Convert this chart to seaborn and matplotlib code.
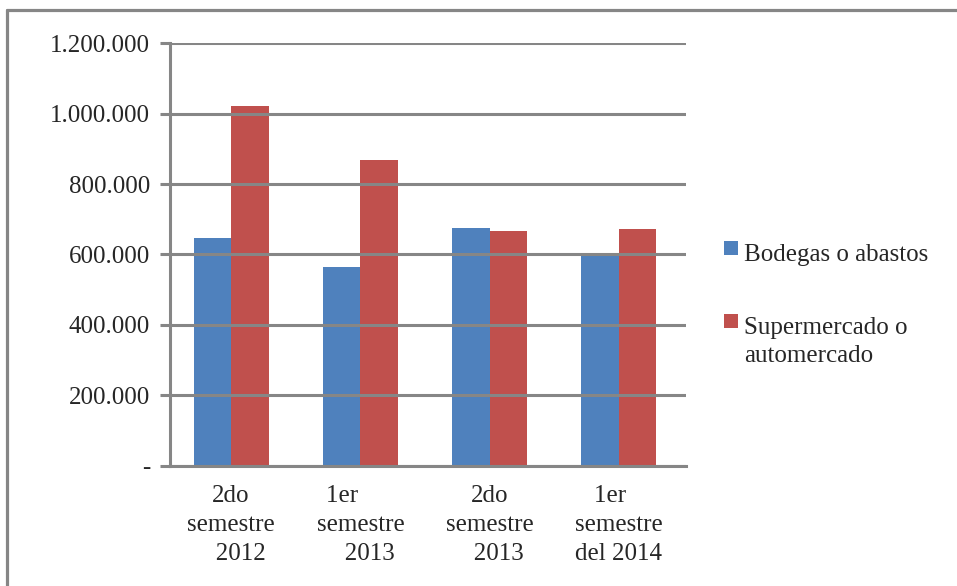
import matplotlib
matplotlib.use("Agg")
import matplotlib.pyplot as plt
import matplotlib.ticker as mticker
from matplotlib.patches import Rectangle
import seaborn as sns
import pandas as pd

# Semesters on the category axis (line breaks as printed under each group)
periodos = [
    "2do\nsemestre\n\u00a0\u00a0\u00a02012",
    "1er\u00a0\u00a0\u00a0\u00a0\u00a0\u00a0\nsemestre\n\u00a0\u00a0\u00a02013",
    "2do\nsemestre\n\u00a0\u00a0\u00a02013",
    "1er\u00a0\u00a0\u00a0\nsemestre\ndel 2014",
]
series = ["Bodegas o abastos", "Supermercado o\nautomercado"]
bodegas = [647000, 564000, 674000, 596000]
supermercado = [1020000, 868000, 667000, 671000]
colores = ["#4F81BD", "#C0504D"]
yticks = [0, 200000, 400000, 600000, 800000, 1000000, 1200000]

df = pd.DataFrame({
    "periodo": periodos * 2,
    "tipo": [series[0]] * len(periodos) + [series[1]] * len(periodos),
    "valor": bodegas + supermercado,
})

sns.set_style("white")
plt.rcParams["font.family"] = ["Liberation Serif", "DejaVu Serif"]

W, H = 957, 586
fig = plt.figure(figsize=(W / 100, H / 100), dpi=100)
ax = fig.add_axes([0.1777, 0.2048, 0.5392, 0.7218])

sns.barplot(data=df, x="periodo", y="valor", hue="tipo", order=periodos,
            hue_order=series, palette=colores, saturation=1, width=0.58,
            gap=0, legend=False, ax=ax, linewidth=0, zorder=2)

grey = "#868686"
ax.set_xlim(-0.472, 3.519)
ax.set_ylim(0, 1200000)
ax.set_yticks(yticks)


def fmt(v, _):
    if v == 0:
        return "-"
    return f"{int(v):,}".replace(",", ".")


ax.yaxis.set_major_formatter(mticker.FuncFormatter(fmt))
ax.grid(axis="y", color=grey, linewidth=2.2, zorder=3)
ax.set_axisbelow(False)
for s in ["top", "right"]:
    ax.spines[s].set_visible(False)
for s in ["left", "bottom"]:
    ax.spines[s].set_color(grey)
    ax.spines[s].set_linewidth(2.2)
    ax.spines[s].set_zorder(4)

ax.tick_params(axis="y", length=7.5, width=2.2, color=grey, pad=7,
               labelsize=18, left=True)
ax.tick_params(axis="x", length=0, pad=14, labelsize=18)
ax.set_xlabel("")
ax.set_ylabel("")
for lbl in ax.get_xticklabels():
    lbl.set_linespacing(1.4)

# Legend: colour square beside the first line of each entry
leg_x_box, leg_x_txt = 724, 744
leg_first_baseline = [261, 334]
line_step = 28.5
for color, label, base in zip(colores, series, leg_first_baseline):
    fig.add_artist(Rectangle((leg_x_box / W, 1 - (base - 6) / H),
                             13.5 / W, 14 / H, transform=fig.transFigure,
                             facecolor=color, edgecolor="none"))
    for i, line in enumerate(label.split("\n")):
        fig.text(leg_x_txt / W, 1 - (base + i * line_step) / H, line,
                 fontsize=18, ha="left", va="baseline")

# Outer frame of the chart area
fig.add_artist(plt.Line2D([0.0073, 1.0], [0.983, 0.983], color=grey,
                          linewidth=2.3, transform=fig.transFigure))
fig.add_artist(plt.Line2D([0.0073, 0.0073], [0.0, 0.983], color=grey,
                          linewidth=2.3, transform=fig.transFigure))

fig.savefig("out.png", dpi=100)
